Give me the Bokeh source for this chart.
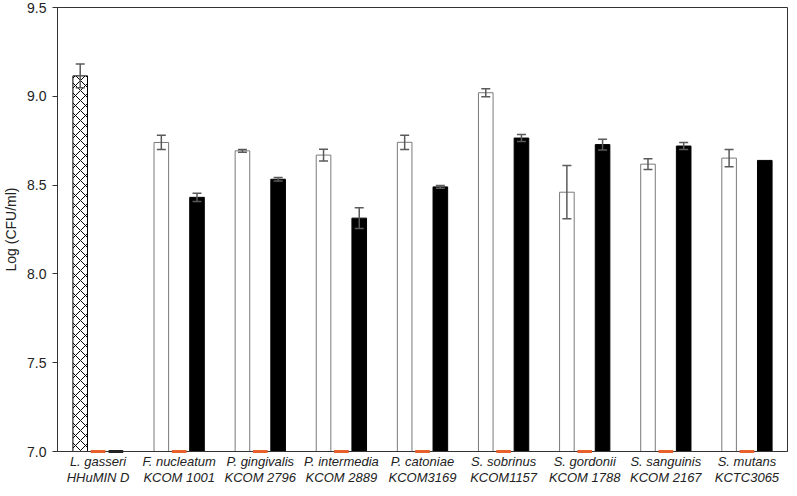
from bokeh.plotting import figure
from bokeh.models import (ColumnDataSource, FactorRange, Whisker, TeeHead, Range1d, FixedTicker,
                          NumeralTickFormatter)
from bokeh.transform import dodge
from bokeh.embed import file_html
from bokeh.resources import INLINE

species = ["L. gasseri", "F. nucleatum", "P. gingivalis", "P. intermedia", "P. catoniae",
           "S. sobrinus", "S. gordonii", "S. sanguinis", "S. mutans"]
strains = ["HHuMIN D", "KCOM 1001", "KCOM 2796", "KCOM 2889", "KCOM3169",
           "KCOM1157", "KCOM 1788", "KCOM 2167", "KCTC3065"]

white_vals = [9.115, 8.74, 8.693, 8.669, 8.741, 9.02, 8.46, 8.618, 8.652]
white_err = [0.067, 0.04, 0.008, 0.033, 0.04, 0.022, 0.15, 0.03, 0.048]
orange_vals = [7.0, 7.0, 7.0, 7.0, 7.0, 7.0, 7.0, 7.0, 7.0]
black_vals = [7.0, 8.431, 8.533, 8.314, 8.49, 8.765, 8.728, 8.72, 8.639]
black_err = [0.0, 0.023, 0.01, 0.058, 0.008, 0.02, 0.03, 0.02, 0.0]

y_ticks = [7.0, 7.5, 8.0, 8.5, 9.0, 9.5]
y_min, y_max = 7.0, 9.5

factors = [s + "\n" + k for s, k in zip(species, strains)]

FONT = "Liberation Sans"
OFF = 0.22
BW = 0.18

p = figure(x_range=FactorRange(*factors, range_padding=0), y_range=Range1d(y_min, y_max),
           width=789, height=488, output_backend="svg", toolbar_location=None,
           min_border_left=52, min_border_right=2, min_border_top=7, min_border_bottom=0)

hatch = ["diagonal_cross" if i == 0 else "blank" for i in range(len(factors))]
wline = ["#000000" if i == 0 else "#7a7a7a" for i in range(len(factors))]
src = ColumnDataSource(dict(x=factors, white=white_vals, black=black_vals,
                            hatch=hatch, wline=wline, base=[y_min] * len(factors)))

p.vbar(x=dodge("x", -OFF, range=p.x_range), top="white", bottom="base", width=BW, source=src,
       fill_color="white", line_color="wline", line_width=1,
       hatch_pattern="hatch", hatch_color="black", hatch_scale=10, hatch_weight=1)
p.vbar(x=dodge("x", OFF, range=p.x_range), top="black", bottom="base", width=BW, source=src,
       fill_color="black", line_color="black", line_width=1)

# zero-height bars (no growth), drawn above the axis line so they stay visible
zo = ColumnDataSource(dict(x=factors, top=orange_vals, base=[y_min] * len(factors)))
p.vbar(x=dodge("x", 0, range=p.x_range), top="top", bottom="base", width=BW, source=zo,
       fill_color="#e8602c", line_color="#e8602c", line_width=3, level="overlay")
zb_x = [f for f, v in zip(factors, black_vals) if v <= y_min]
zb = ColumnDataSource(dict(x=zb_x, top=[v for v in black_vals if v <= y_min], base=[y_min] * len(zb_x)))
p.vbar(x=dodge("x", OFF, range=p.x_range), top="top", bottom="base", width=BW, source=zb,
       fill_color="black", line_color="#222222", line_width=3, level="overlay")

def whisk(vals, errs, off):
    xs = [f for f, e in zip(factors, errs) if e > 0]
    v = [a for a, e in zip(vals, errs) if e > 0]
    e = [b for b in errs if b > 0]
    s = ColumnDataSource(dict(x=xs, lo=[a - b for a, b in zip(v, e)], hi=[a + b for a, b in zip(v, e)]))
    w = Whisker(source=s, base=dodge("x", off, range=p.x_range), upper="hi", lower="lo",
                line_color="#5a5a5a", line_width=1.5, level="overlay",
                upper_head=TeeHead(size=9, line_color="#5a5a5a", line_width=1.5),
                lower_head=TeeHead(size=9, line_color="#5a5a5a", line_width=1.5))
    p.add_layout(w)

whisk(white_vals, white_err, -OFF)
whisk(black_vals, black_err, OFF)

p.xgrid.visible = False
p.ygrid.visible = False
p.outline_line_color = "#333333"
p.outline_line_width = 1

p.yaxis.ticker = FixedTicker(ticks=y_ticks)
p.yaxis.formatter = NumeralTickFormatter(format="0.0")
p.yaxis.minor_tick_line_color = None
p.yaxis.major_tick_out = 5
p.yaxis.major_tick_in = 0
p.yaxis.axis_label = "Log (CFU/ml)"
p.yaxis.axis_label_text_font = FONT
p.yaxis.axis_label_text_font_style = "normal"
p.yaxis.axis_label_text_font_size = "14px"
p.yaxis.axis_label_text_color = "#222222"
p.yaxis.axis_label_standoff = 5
p.yaxis.major_label_standoff = 6

for ax in (p.xaxis, p.yaxis):
    ax.major_label_text_font = FONT
    ax.major_label_text_color = "#222222"
    ax.axis_line_color = "#333333"
    ax.major_tick_line_color = "#333333"

p.yaxis.major_label_text_font_size = "14px"
p.xaxis.major_label_text_font_size = "13px"
p.xaxis.major_label_text_line_height = 1.1
p.xaxis.major_tick_line_color = None
p.xaxis.major_tick_out = 0
p.xaxis.major_tick_in = 0
p.xaxis.minor_tick_line_color = None
p.xaxis.minor_tick_out = 0
p.xaxis.major_label_text_font_style = "italic"
p.xaxis.major_label_standoff = 2
p.xaxis.major_label_orientation = "horizontal"

open("out.html", "w").write(file_html(p, INLINE))
